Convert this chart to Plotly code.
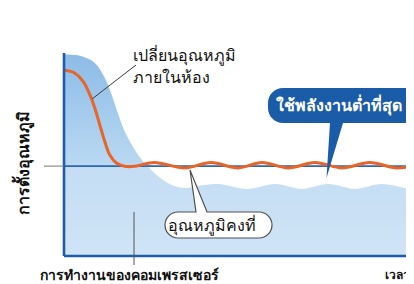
import plotly.graph_objects as go

W, H = 414, 284

# ---- data (time units 0..100, temperature units 0..100) ----
set_temp = 44.5

room_time = [0.2, 3.0, 5.4, 7.3, 8.7, 10.1, 11.5, 12.9, 14.8, 17.1, 20.0, 25.5,
             34.2, 41.5, 49.2, 55.9, 63.3, 70.9, 78.5, 86.4, 94.1, 101.1]
room_temp = [91.9, 90.6, 86.5, 79.9, 73.3, 65.0, 56.8, 50.1, 46.0, 44.4, 44.4, 46.3,
             43.6, 46.3, 43.6, 46.3, 43.6, 46.3, 43.6, 46.3, 43.6, 45.5]

load_time = [0.0, 4.9, 8.7, 11.5, 13.4, 15.3, 17.1, 19.8, 22.8, 26.6, 30.3, 34.1,
             37.9, 43.5, 52.0, 59.6, 67.2, 74.6, 82.2, 89.8, 98.3, 101.2]
load_level = [99.7, 98.9, 95.5, 88.1, 79.9, 70.0, 61.7, 53.0, 46.0, 39.5, 35.3, 33.7,
              34.7, 35.6, 33.2, 35.6, 33.2, 35.6, 33.2, 35.6, 33.2, 34.2]

y_title = "การตั้งอุณหภูมิ"
x_title = "การทำงานของคอมเพรสเซอร์"
x_end_label = "เวลา"
label_room = ["เปลี่ยนอุณหภูมิ", "ภายในห้อง"]
label_min_power = "ใช้พลังงานต่ำที่สุด"
label_const = "อุณหภูมิคงที่"

# ---- pixel <-> data mapping (plot area = full figure) ----
X0PX, X100PX = 56, 410
Y0PX, Y100PX = 248, 46
sx = (X100PX - X0PX) / 100.0
sy = (Y0PX - Y100PX) / 100.0
x_range = [(0 - X0PX) / sx, (W - X0PX) / sx]
y_range = [(Y0PX - H) / sy, (Y0PX - 0) / sy]


def P(px, py):
    return px / W, 1 - py / H


FONT = "Noto Sans, DejaVu Sans, sans-serif"
AX_BLUE = "#1d5cac"
TEXT_DX = -8  # compensation for text measurement offset

fig = go.Figure()

# lower light region
fig.add_trace(go.Scatter(
    x=load_time, y=load_level, mode="lines", line=dict(width=0, shape="spline"),
    fill="tozeroy",
    fillgradient=dict(type="vertical",
                      colorscale=[[0, "#cfe4f6"], [1, "#b6d5f0"]]),
    hoverinfo="skip", showlegend=False))

# upper darker region (above set temperature)
upper = [max(v, set_temp) for v in load_level]
fig.add_trace(go.Scatter(
    x=load_time, y=[set_temp] * len(load_time), mode="lines",
    line=dict(width=0), hoverinfo="skip", showlegend=False))
fig.add_trace(go.Scatter(
    x=load_time, y=upper, mode="lines", line=dict(width=0, shape="spline"),
    fill="tonexty",
    fillgradient=dict(type="vertical",
                      colorscale=[[0, "#bad9f2"], [1, "#8cbce6"]]),
    hoverinfo="skip", showlegend=False))

# set temperature line
fig.add_trace(go.Scatter(
    x=[0, x_range[1]], y=[set_temp, set_temp], mode="lines",
    line=dict(color="#2b66b8", width=1.6), hoverinfo="skip", showlegend=False))

# room temperature
fig.add_trace(go.Scatter(
    x=room_time, y=room_temp, mode="lines",
    line=dict(color="#e8652a", width=3, shape="spline", smoothing=1.0),
    hoverinfo="skip", showlegend=False))

shapes = []
# axes
shapes.append(dict(type="line", xref="x", yref="y", x0=0, y0=0, x1=0, y1=100.5,
                   line=dict(color=AX_BLUE, width=2.6)))
shapes.append(dict(type="line", xref="x", yref="y", x0=0, y0=0, x1=98, y1=0,
                   line=dict(color=AX_BLUE, width=2.6)))
# arrow head on x axis
ax1, ay1 = P(413, 248)
ax2, ay2 = P(402, 242.5)
ax3, ay3 = P(402, 253.5)
shapes.append(dict(type="path", xref="paper", yref="paper",
                   path=f"M {ax1},{ay1} L {ax2},{ay2} L {ax3},{ay3} Z",
                   fillcolor=AX_BLUE, line=dict(width=0)))
# grey tick extension of set line
shapes.append(dict(type="line", xref="x", yref="y", x0=(36 - X0PX) / sx, y0=set_temp,
                   x1=0, y1=set_temp, line=dict(color="#777777", width=1)))
# leader line for room temp label
l1 = P(84, 91); l2 = P(128, 57)
shapes.append(dict(type="line", xref="paper", yref="paper", x0=l1[0], y0=l1[1],
                   x1=l2[0], y1=l2[1], line=dict(color="#3a3a3a", width=1)))
# compressor leader line
c1 = P(126, 204); c2 = P(126, 257)
shapes.append(dict(type="line", xref="paper", yref="paper", x0=c1[0], y0=c1[1],
                   x1=c2[0], y1=c2[1], line=dict(color="#555555", width=1)))


def rounded_bubble(x0, y0, x1, y1, r, tail, tail_dir):
    """tail: (base_left_x, base_right_x, tip_x, tip_y); tail_dir 'top' or 'bottom'"""
    k = 0.5523 * r
    bl, br, tx, ty = tail

    def p(px, py):
        a, b = P(px, py)
        return f"{a:.5f},{b:.5f}"
    d = f"M {p(x0 + r, y0)} "
    if tail_dir == "top":
        d += f"L {p(bl, y0)} L {p(tx, ty)} L {p(br, y0)} "
    d += f"L {p(x1 - r, y0)} C {p(x1 - r + k, y0)} {p(x1, y0 + r - k)} {p(x1, y0 + r)} "
    d += f"L {p(x1, y1 - r)} C {p(x1, y1 - r + k)} {p(x1 - r + k, y1)} {p(x1 - r, y1)} "
    if tail_dir == "bottom":
        d += f"L {p(br, y1)} L {p(tx, ty)} L {p(bl, y1)} "
    d += f"L {p(x0 + r, y1)} C {p(x0 + r - k, y1)} {p(x0, y1 - r + k)} {p(x0, y1 - r)} "
    d += f"L {p(x0, y0 + r)} C {p(x0, y0 + r - k)} {p(x0 + r - k, y0)} {p(x0 + r, y0)} Z"
    return d


shapes.append(dict(type="path", xref="paper", yref="paper",
                   path=rounded_bubble(260, 80, 412, 115, 15, (322, 335, 318.5, 170), "bottom"),
                   fillcolor="#1b5ca8", line=dict(width=0)))
shapes.append(dict(type="path", xref="paper", yref="paper",
                   path=rounded_bubble(157, 204, 264, 230, 13, (188, 199, 182, 162), "top"),
                   fillcolor="#ffffff", line=dict(color="#505050", width=1.2)))

annotations = []


def txt(text, px, py, size, color="#111111", xanchor="center", bold=False, angle=0, dx=TEXT_DX):
    a, b = P(px + dx, py)
    annotations.append(dict(
        text=f"<b>{text}</b>" if bold else text, x=a, y=b, xref="paper", yref="paper",
        xanchor=xanchor, yanchor="middle", showarrow=False, textangle=angle,
        font=dict(family=FONT, size=size, color=color)))


txt(label_room[0], 133, 47, 16, xanchor="left", dx=-10)
txt(label_room[1], 133, 69, 16, xanchor="left", dx=-10)
txt(label_min_power, 339, 97, 16, color="#ffffff", bold=True)
txt(label_const, 212, 217, 16)
txt(x_title, 130, 266, 14, bold=True)
txt(x_end_label, 385, 266, 12, xanchor="left", bold=True, dx=-10)
txt(y_title, 15, 155, 16, bold=True, angle=-90, dx=0)

fig.update_layout(
    width=W, height=H, margin=dict(l=0, r=0, t=0, b=0),
    paper_bgcolor="#ffffff", plot_bgcolor="#ffffff",
    xaxis=dict(range=x_range, visible=False, fixedrange=True),
    yaxis=dict(range=y_range, visible=False, fixedrange=True),
    shapes=shapes, annotations=annotations, showlegend=False)

fig.write_html("out.html")
